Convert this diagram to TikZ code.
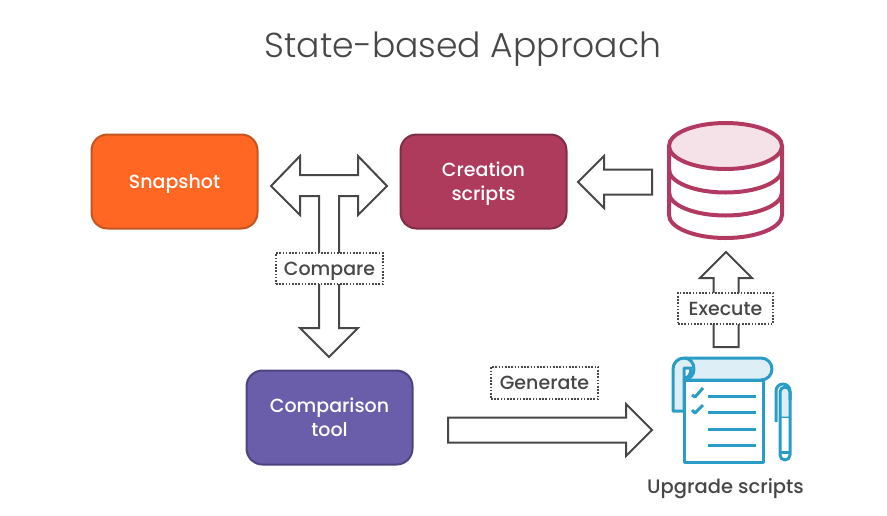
\documentclass[tikz,border=0pt]{standalone}
\usepackage{fontspec}
\setmainfont{Poppins Medium}
\newfontfamily\titlefont{Poppins Light}
\usetikzlibrary{calc}
\definecolor{inkgrey}{HTML}{474747}
\definecolor{orangefill}{HTML}{FF6723}
\definecolor{orangeline}{HTML}{C4551F}
\definecolor{crimsonfill}{HTML}{AE3A5C}
\definecolor{crimsonline}{HTML}{7F2E48}
\definecolor{purplefill}{HTML}{6A5EAB}
\definecolor{purpleline}{HTML}{4C437F}
\definecolor{dbline}{HTML}{B23A60}
\definecolor{dbtop}{HTML}{F5E1E8}
\definecolor{scrollline}{HTML}{2A9DC6}
\definecolor{scrollfill}{HTML}{DDEEF6}
\newcommand{\lowered}[1]{\raisebox{-6.5pt}[0pt][0pt]{#1}}
\tikzset{
  x=1pt,y=-1pt,
  boxnode/.style={rounded corners=16pt,line width=2pt,minimum width=166pt,minimum height=94pt,text=white,align=center,inner sep=0pt,font=\fontsize{19}{24}\selectfont},
  tagnode/.style={draw=inkgrey,fill=white,line width=1.8pt,dash pattern=on 1.6pt off 1.6pt,text=inkgrey,inner sep=0pt,font=\fontsize{19}{20}\selectfont},
  blockline/.style={draw=inkgrey,line width=2pt,fill=white,line join=miter},
  dbstroke/.style={draw=dbline,line width=4pt},
  scrollstroke/.style={draw=scrollline,line width=3pt,line join=round},
}
\newcommand{\blockarrow}[2]{%
  \coordinate (headbase) at ($(#2)!26pt!(#1)$);
  \draw[blockline]
    ($(#1)!12.5pt!90:(#2)$) -- ($(headbase)!12.5pt!-90:(#1)$) -- ($(headbase)!26pt!-90:(#1)$) -- (#2)
    -- ($(headbase)!26pt!90:(#1)$) -- ($(headbase)!12.5pt!90:(#1)$) -- ($(#1)!12.5pt!-90:(#2)$) -- cycle;
}
\begin{document}
\begin{tikzpicture}
\useasboundingbox (0,0) rectangle (887,515);
\node[text=inkgrey,font=\titlefont\fontsize{34.6}{36}\selectfont] (title) at (463,49) {State-based Approach};

\node[boxnode,draw=orangeline,fill=orangefill] (snapshot) at (174.5,181.5) {\lowered{Snapshot}};
\node[boxnode,draw=crimsonline,fill=crimsonfill] (creation) at (483.5,181.5) {\lowered{Creation}\\\lowered{scripts}};
\node[boxnode,draw=purpleline,fill=purplefill] (comparison) at (329.5,417.5) {\lowered{Comparison}\\\lowered{tool}};

% T-shaped three-way arrow
\coordinate (tleft) at (271,186);
\coordinate (tright) at (387,186);
\coordinate (tdown) at (329,357);
\draw[blockline]
  (tleft) -- ++(29,-30) -- ++(0,19) -- ++(58,0) -- ++(0,-19) -- (tright)
  -- ++(-29,29) -- ++(0,-19) -- ++(-19,0) -- (339,328) -- ++(19,0) -- (tdown)
  -- ++(-29,-29) -- ++(19,0) -- (319,196) -- ++(-19,0) -- ++(0,19) -- cycle;
\node[tagnode,minimum width=107pt,minimum height=31pt] (compare) at (329.5,268.5) {\lowered{Compare}};

% Database
\node[inner sep=0pt,minimum width=115pt,minimum height=117pt] (db) at (725.5,180.5) {};
\draw[dbstroke,fill=white] (669,146) -- (669,215) arc[start angle=180,end angle=360,x radius=56.5,y radius=-23] -- (782,146);
\draw[dbstroke] (669,169.5) arc[start angle=180,end angle=360,x radius=56.5,y radius=-23];
\draw[dbstroke] (669,192.5) arc[start angle=180,end angle=360,x radius=56.5,y radius=-23];
\draw[dbstroke,fill=dbtop] (725.5,146) ellipse[x radius=56.5,y radius=23];

\coordinate (dbtail) at (652,182);
\coordinate (creationtip) at (578,182);
\blockarrow{dbtail}{creationtip}

\coordinate (exectail) at (726,347);
\coordinate (exectip) at (726,252);
\blockarrow{exectail}{exectip}
\node[tagnode,minimum width=95pt,minimum height=31pt] (execute) at (725.5,308.5) {\lowered{Execute}};

\coordinate (gentail) at (448,430);
\coordinate (gentip) at (652,430);
\blockarrow{gentail}{gentip}
\node[tagnode,minimum width=107pt,minimum height=32pt] (generate) at (544.5,383) {\lowered{Generate}};

% Scroll icon
\draw[scrollstroke,fill=scrollfill] (684,411) -- (673,411) -- (673,369) arc[start angle=180,end angle=90,x radius=11,y radius=-11] -- (761,358) arc[start angle=90,end angle=-90,x radius=11,y radius=-11] -- (684,380) -- cycle;
\draw[scrollstroke,fill=white] (684,380) -- (684,462) -- (763,462) -- (763,380) -- cycle;
\draw[scrollstroke,fill=white] (684,380) -- (684,368) -- (691,368) .. controls (691,374) and (689,377) .. (684,379);
\draw[scrollstroke] (684,358) .. controls (690,358) and (694,363) .. (694,369) .. controls (694,375) and (690,379) .. (684,380);
\draw[scrollstroke] (692,395) -- (695,397) -- (703,388);
\draw[scrollstroke] (692,410) -- (695,413) -- (703,405);
\draw[scrollstroke] (708,396) -- (756,396);
\draw[scrollstroke] (708,412) -- (756,412);
\draw[scrollstroke] (708,429) -- (756,429);
\draw[scrollstroke] (708,445) -- (756,445);

% Pen
\draw[scrollstroke,fill=scrollfill] (780,418) -- (780,392) arc[start angle=180,end angle=0,x radius=5,y radius=-5] -- (790,418) -- cycle;
\draw[scrollstroke,fill=white] (780,418) -- (780,455) arc[start angle=180,end angle=360,x radius=5,y radius=-5] -- (790,418);
\draw[scrollstroke] (780,452) -- (790,452);
\draw[scrollstroke] (776,422) -- (776,391) arc[start angle=180,end angle=0,x radius=7,y radius=-7] -- (790,400);

\node[text=inkgrey,font=\fontsize{19.5}{20}\selectfont] (upgrade) at (725.5,489) {Upgrade scripts};
\end{tikzpicture}
\end{document}
